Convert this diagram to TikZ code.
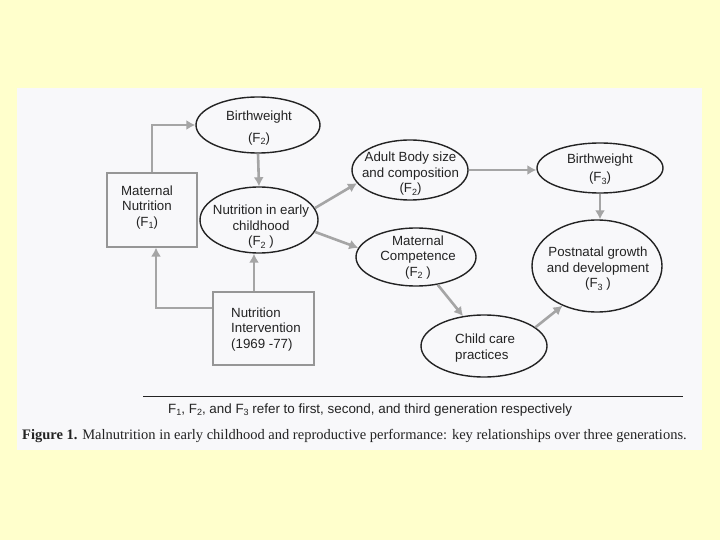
\documentclass[tikz,border=0pt]{standalone}
\usepackage{fontspec}
\setmainfont{Liberation Serif}
\newfontfamily\diagfont{Liberation Sans}
\usetikzlibrary{shapes.geometric,arrows.meta,calc}
\definecolor{bgyellow}{RGB}{255,255,204}
\definecolor{paper}{RGB}{248,248,250}
\definecolor{arrowgray}{RGB}{165,165,165}
\definecolor{boxgray}{RGB}{150,150,150}
\definecolor{inkgray}{RGB}{35,35,35}
\newcommand{\sbx}[1]{\raisebox{-0.3ex}{\fontsize{9}{9}\selectfont #1}}
\begin{document}
\begin{tikzpicture}[x=1pt,y=-1pt,
  ell/.style={draw=inkgray,line width=1.4pt,ellipse,inner sep=0pt},
  sqbox/.style={draw=boxgray,line width=1.2pt,rectangle,inner sep=0pt},
  lbl/.style={font=\diagfont\fontsize{13.3}{15.5}\selectfont,inner sep=0pt,text=inkgray},
  arr/.style={draw=arrowgray,line width=2.6pt,-{Latex[length=9pt,width=10pt]}},
]
\useasboundingbox (0,0) rectangle (720,540);
\fill[bgyellow] (0,0) rectangle (720,540);
\fill[paper] (17,88) rectangle (702,450);

% shapes
\node[ell,minimum width=124pt,minimum height=56pt] (bw2) at (258,125) {};
\node[ell,minimum width=118pt,minimum height=66pt] (nec) at (259,220) {};
\node[ell,minimum width=116pt,minimum height=60pt] (abs) at (410,170) {};
\node[ell,minimum width=126pt,minimum height=50pt] (bw3) at (600,168) {};
\node[ell,minimum width=120pt,minimum height=58pt] (mc) at (416,257) {};
\node[ell,minimum width=130pt,minimum height=92pt] (pg) at (597,266) {};
\node[ell,minimum width=126pt,minimum height=62pt] (cc) at (484,346) {};
\node[sqbox,minimum width=90pt,minimum height=74pt] (mn) at (152,210) {};
\node[sqbox,minimum width=101pt,minimum height=73pt] (ni) at (263.5,328.5) {};

% texts
\node[lbl,align=center] (tbw2) at (259,128) {Birthweight\\[6.5pt](F\sbx{2})};
\node[lbl,align=center] (tnec) at (261,227) {Nutrition in early\\childhood\\(F\sbx{2} )};
\node[lbl,align=center] (tabs) at (410.5,174) {Adult Body size\\and composition\\(F\sbx{2})};
\node[lbl,align=center] (tbw3) at (600,169.5) {Birthweight\\[2.5pt](F\sbx{3})};
\node[lbl,align=center] (tmc) at (418,257.5) {Maternal\\Competence\\(F\sbx{2} )};
\node[lbl,align=center] (tpg) at (598,269) {Postnatal growth\\and development\\(F\sbx{3} )};
\node[lbl,align=left,anchor=west] (tcc) at (455,348) {Child care\\practices};
\node[lbl,align=center] (tmn) at (147,207.5) {Maternal\\Nutrition\\(F\sbx{1})};
\node[lbl,align=left,anchor=west] (tni) at (231,329.5) {Nutrition\\Intervention\\(1969 -77)};

% connectors
\draw[arr] (mn.north) |- (bw2.west);
\draw[arr] (bw2.south) -- (nec.north);
\draw[arr] ([xshift=-9.5pt]ni.north) -- ([xshift=-5pt]nec.south);
\draw[arr] ([yshift=20.5pt]ni.west) -| ([xshift=4pt]mn.south);
\draw[arr] (nec.12) -- (abs.194);
\draw[arr] (nec.348) -- (mc.171);
\draw[arr] (abs.east) -- (abs.east -| bw3.west);
\draw[arr] (bw3.south) -- (bw3.south |- pg.north);
\draw[arr] (mc.308) -- (cc.125);
\draw[arr] (cc.20) -- (pg.229);

% footer
\coordinate (rl) at (143,396);
\coordinate (rr) at (683,396);
\draw[line width=1pt,inkgray] (rl) -- (rr);
\node[lbl,anchor=west,font=\diagfont\fontsize{13.4}{15}\selectfont] (foot) at (168,410)
  {F\sbx{1}, F\sbx{2}, and F\sbx{3} refer to first, second, and third generation respectively};
\node[anchor=west,inner sep=0pt,text=inkgray,font=\fontsize{14.5}{16}\selectfont] (cap) at (22,436)
  {\textbf{Figure 1.} Malnutrition in early childhood and reproductive performance: key relationships over three generations.};
\end{tikzpicture}
\end{document}
